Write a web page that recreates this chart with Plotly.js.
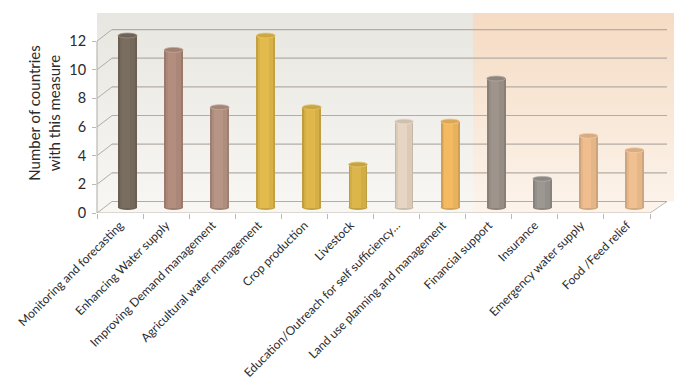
<!DOCTYPE html>
<html><head><meta charset="utf-8">
<script src="https://cdn.plot.ly/plotly-3.0.1.min.js"></script>
<style>html,body{margin:0;padding:0;background:#fff}#chart{width:700px;height:384px}</style>
</head><body><div id="chart"></div>
<script>
// ---- data ----
const categories = [
  'Monitoring and forecasting',
  'Enhancing Water supply',
  'Improving Demand management',
  'Agricultural water management',
  'Crop production',
  'Livestock',
  'Education/Outreach for self sufficiency…',
  'Land use planning and management',
  'Financial support',
  'Insurance',
  'Emergency water supply',
  'Food /Feed relief'
];
const values = [12, 11, 7, 12, 7, 3, 6, 6, 9, 2, 5, 4];
const yTickValues = [0, 2, 4, 6, 8, 10, 12];
const yTickLabels = ['0', '2', '4', '6', '8', '10', '12'];
const yTitle = 'Number of countries<br>with this measure';

// ---- styles ----
const barColors = ['#7a6e60','#b38e7e','#b69585','#e3ba4c','#dfb74b','#dcb64a','#e6d5c2','#f3ba62','#9e948b','#9c9791','#f0be8e','#f0c090'];
const FONT = 'Lato, "Open Sans", sans-serif';
const TXT = '#2b2b2b';
const GRID = '#b3aca4';

function mix(hex, target, t) {
  const n = parseInt(hex.slice(1), 16);
  const r = (n >> 16) & 255, g = (n >> 8) & 255, b = n & 255;
  const f = c => Math.round(c + (target - c) * t);
  return 'rgb(' + f(r) + ',' + f(g) + ',' + f(b) + ')';
}

// geometry (pixels) of the 3-D look
const plotW = 577, plotH = 200, catPx = 553 / 12, unitPx = 14.33;
const xMax = -0.5 + plotW / catPx;
const yMax = plotH / unitPx;
const barDx = 7.5 / catPx, barDy = 5.5 / unitPx;     // bars sit mid-depth
const wallDx = 15 / plotW, wallDy = 11.5 / unitPx;    // back wall offset
const barW = 0.41, capH = 0.17;

const idx = categories.map((c, i) => i);

const traces = [
  { type: 'bar', x: categories, y: values, xaxis: 'x2', yaxis: 'y2', width: barW,
    marker: { color: barColors.map(c => mix(c, 0, 0.14)), line: { width: 0 } },
    hoverinfo: 'skip' },
  { type: 'bar', x: categories, y: values, xaxis: 'x2', yaxis: 'y2', width: barW * 0.8,
    marker: { color: barColors.map(c => mix(c, 0, 0.05)), line: { width: 0 } }, hoverinfo: 'skip' },
  { type: 'bar', x: categories, y: values, xaxis: 'x2', yaxis: 'y2', width: barW * 0.45,
    offset: -barW * 0.3,
    marker: { color: barColors, line: { width: 0 } }, hoverinfo: 'skip' },
  // invisible trace to set up the front category axis
  { type: 'bar', x: categories, y: values.map(() => 0), xaxis: 'x', yaxis: 'y',
    marker: { color: 'rgba(0,0,0,0)' }, hoverinfo: 'skip', showlegend: false }
];

const shapes = [];
// back-wall gridlines with the 3-D diagonals
yTickValues.forEach(v => {
  shapes.push({ type: 'line', layer: 'below', xref: 'paper', yref: 'y',
    x0: wallDx, x1: 1 - 7 / plotW, y0: v + wallDy, y1: v + wallDy,
    line: { color: GRID, width: 1.2 } });
  shapes.push({ type: 'line', layer: 'below', xref: 'paper', yref: 'y',
    x0: 0, x1: wallDx, y0: v, y1: v + wallDy,
    line: { color: GRID, width: 1 } });
});
// floor front edge and right diagonal, left axis line
shapes.push({ type: 'line', layer: 'below', xref: 'paper', yref: 'y',
  x0: 0, x1: 553 / plotW, y0: 0, y1: 0, line: { color: '#bdb8b2', width: 1.2 } });
shapes.push({ type: 'line', layer: 'below', xref: 'paper', yref: 'y',
  x0: 553 / plotW, x1: 1 - 7 / plotW, y0: 0, y1: wallDy, line: { color: '#bdb8b2', width: 1 } });
shapes.push({ type: 'line', layer: 'below', xref: 'paper', yref: 'y',
  x0: 0, x1: 0, y0: 0, y1: 12, line: { color: '#bdb8b2', width: 1.2 } });
// bottom ellipses (under bars)
idx.forEach(i => {
  shapes.push({ type: 'circle', layer: 'below', xref: 'x2', yref: 'y2',
    x0: i - barW / 2, x1: i + barW / 2, y0: -capH, y1: capH,
    fillcolor: mix(barColors[i], 0, 0.12), line: { width: 0 } });
});
// top caps
idx.forEach(i => {
  shapes.push({ type: 'circle', layer: 'above', xref: 'x2', yref: 'y2',
    x0: i - barW / 2, x1: i + barW / 2, y0: values[i] - capH, y1: values[i] + capH,
    fillcolor: mix(barColors[i], 0, 0.1), line: { color: mix(barColors[i], 255, 0.2), width: 0.8 } });
});

const split = (473 - 97) / plotW;
const svg = "<svg xmlns='http://www.w3.org/2000/svg' width='577' height='200' viewBox='0 0 577 200' preserveAspectRatio='none'>" +
  "<defs><linearGradient id='g' x1='0' y1='0' x2='0' y2='1'><stop offset='0' stop-color='#e7e6e0'/><stop offset='1' stop-color='#f8f7f4'/></linearGradient>" +
  "<linearGradient id='o' x1='0' y1='0' x2='0' y2='1'><stop offset='0' stop-color='#f5dbc3'/><stop offset='1' stop-color='#fcf4ec'/></linearGradient></defs>" +
  "<rect x='0' y='0' width='" + (split * 577).toFixed(1) + "' height='200' fill='url(#g)'/>" +
  "<rect x='" + (split * 577).toFixed(1) + "' y='0' width='" + (577 - split * 577).toFixed(1) + "' height='200' fill='url(#o)'/>" +
  "<polygon points='553,200 570,188.5 577,188.5 577,200' fill='#ffffff'/>" +
  "</svg>";

const layout = {
  width: 700, height: 384,
  margin: { l: 97, r: 26, t: 13, b: 171, pad: 0 },
  paper_bgcolor: '#ffffff', plot_bgcolor: 'rgba(0,0,0,0)',
  showlegend: false, barmode: 'overlay', bargap: 0,
  font: { family: FONT, color: TXT },
  images: [{ source: 'data:image/svg+xml;charset=utf-8,' + encodeURIComponent(svg),
    xref: 'paper', yref: 'paper', x: 0, y: 1, sizex: 1, sizey: 1,
    xanchor: 'left', yanchor: 'top', sizing: 'stretch', layer: 'below' }],
  xaxis: { type: 'category', range: [-0.5, xMax], showgrid: false, zeroline: false,
    showline: false, ticks: 'outside', ticklen: 5, tickcolor: '#bdb8b2', tickson: 'boundaries',
    ticklabelstandoff: 2,
    tickangle: -45, tickfont: { family: FONT, size: 12, color: TXT }, fixedrange: true },
  yaxis: { range: [0, yMax], showgrid: false, zeroline: false, showline: false,
    tickvals: yTickValues, ticktext: yTickLabels, ticks: 'outside', ticklen: 4,
    tickcolor: '#bdb8b2', tickfont: { family: FONT, size: 14.5, color: TXT },
    ticklabelstandoff: 3,
    title: { text: yTitle, font: { family: FONT, size: 15, color: TXT }, standoff: 5 },
    fixedrange: true },
  xaxis2: { type: 'category', overlaying: 'x', range: [-0.5 - barDx, xMax - barDx],
    visible: false, fixedrange: true },
  yaxis2: { overlaying: 'y', range: [-barDy, yMax - barDy], visible: false, fixedrange: true },
  shapes: shapes
};

Plotly.newPlot('chart', traces, layout, { displayModeBar: false, staticPlot: true });
</script>
</body></html>
